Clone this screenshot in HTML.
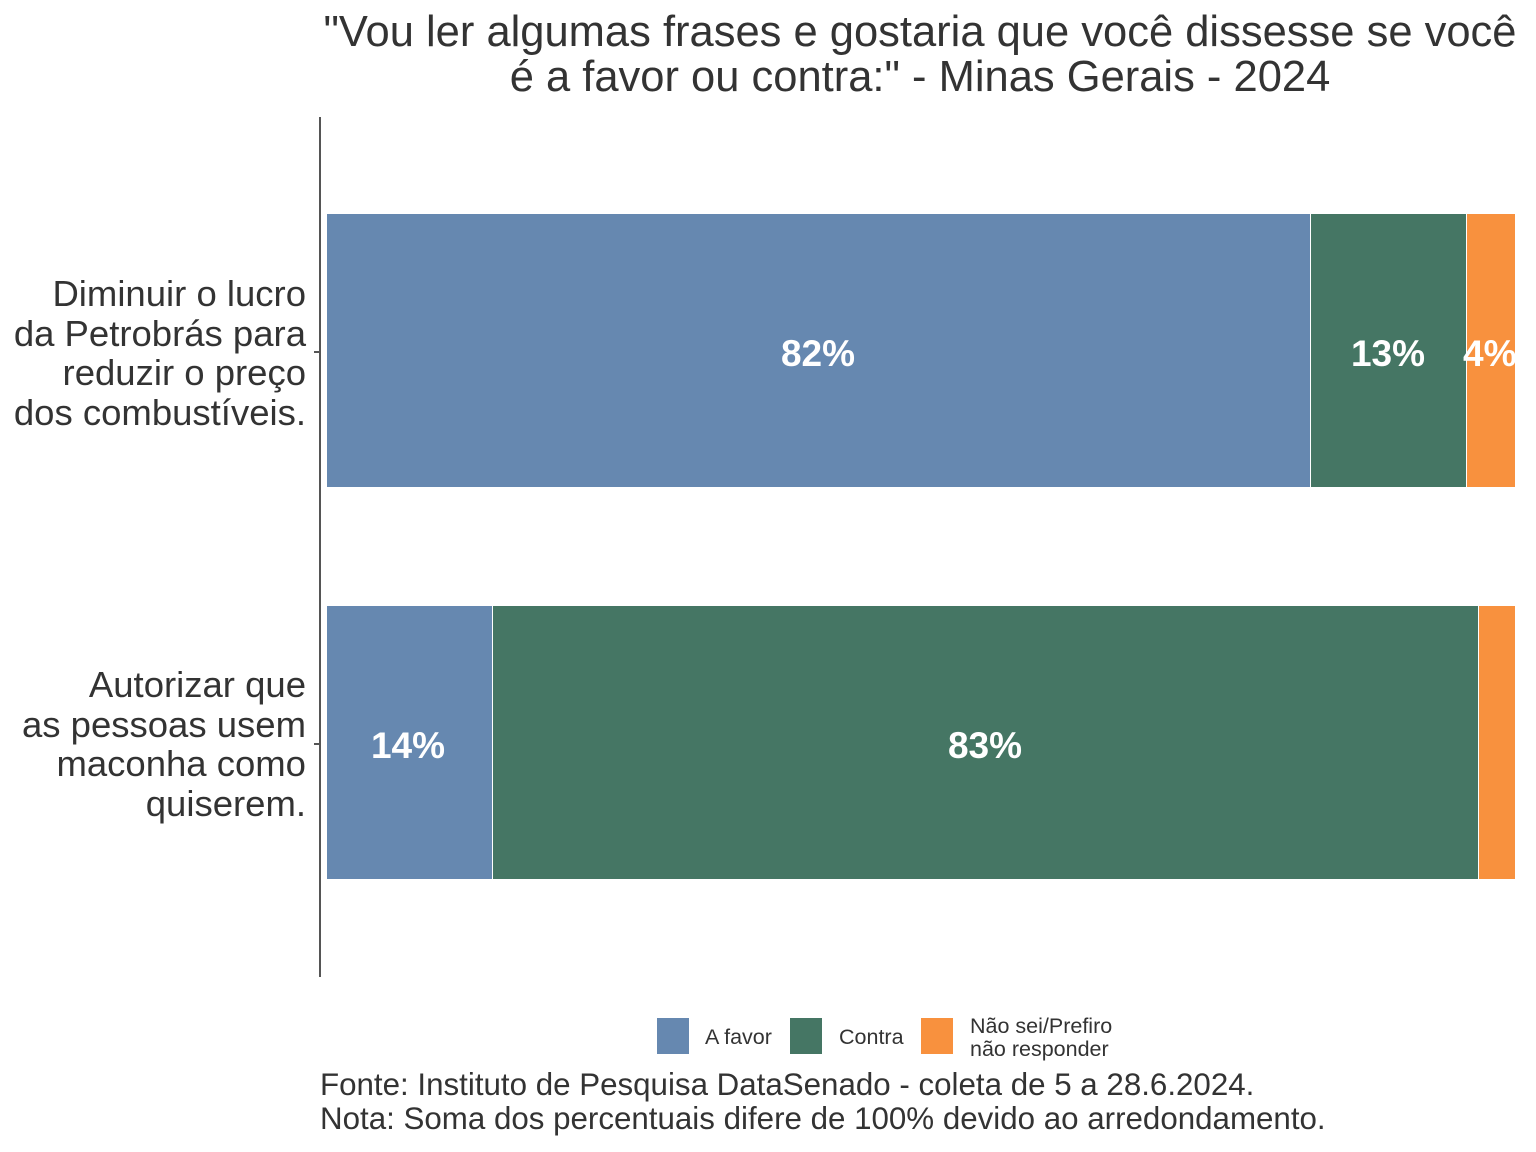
<!DOCTYPE html>
<html><head><meta charset="utf-8"><style>
body{margin:0;width:1536px;height:1152px;background:#fff;position:relative;overflow:hidden;font-family:"Liberation Sans",sans-serif;color:#333}
.a{position:absolute}
.t{font-size:43.5px;text-align:center;width:1400px;left:220px;line-height:45px;top:10px;white-space:nowrap}
.yl{font-size:36.5px;text-align:right;right:1230px;line-height:39.5px;width:400px;white-space:nowrap}
.bl{color:#fff;font-weight:bold;font-size:37px;text-align:center;line-height:40px}
.lg{font-size:21.5px;line-height:23px;white-space:nowrap}
.ft{font-size:31.3px;line-height:34px;left:320px;top:1068px;white-space:nowrap}
</style></head><body>
<div class="a t">"Vou ler algumas frases e gostaria que você dissesse se você<br>é a favor ou contra:" - Minas Gerais - 2024</div>
<div class="a" style="left:319px;top:117px;width:1.5px;height:860px;background:#555"></div>
<div class="a" style="left:314px;top:351px;width:6px;height:1.5px;background:#555"></div>
<div class="a" style="left:314px;top:743px;width:6px;height:1.5px;background:#555"></div>
<div class="a yl" style="top:274px">Diminuir o lucro<br>da Petrobrás para<br>reduzir o preço<br>dos combustíveis.</div>
<div class="a yl" style="top:665px">Autorizar que<br>as pessoas usem<br>maconha como<br>quiserem.</div>
<div class="a" style="left:327px;top:214px;width:983px;height:273px;background:#6688b0"></div>
<div class="a" style="left:1311px;top:214px;width:155px;height:273px;background:#457664"></div>
<div class="a" style="left:1467px;top:214px;width:48px;height:273px;background:#f8913e"></div>
<div class="a" style="left:327px;top:606px;width:165px;height:273px;background:#6688b0"></div>
<div class="a" style="left:493px;top:606px;width:985px;height:273px;background:#457664"></div>
<div class="a" style="left:1479px;top:606px;width:36px;height:273px;background:#f8913e"></div>
<div class="a bl" style="left:718px;top:334px;width:200px">82%</div>
<div class="a bl" style="left:1288px;top:334px;width:200px">13%</div>
<div class="a bl" style="left:1463px;top:334px;width:80px;text-align:left">4%</div>
<div class="a bl" style="left:308px;top:726px;width:200px">14%</div>
<div class="a bl" style="left:885px;top:726px;width:200px">83%</div>
<div class="a" style="left:657px;top:1018px;width:32px;height:36px;background:#6688b0"></div>
<div class="a lg" style="left:705px;top:1026px">A favor</div>
<div class="a" style="left:790px;top:1018px;width:32px;height:36px;background:#457664"></div>
<div class="a lg" style="left:839px;top:1026px">Contra</div>
<div class="a" style="left:921px;top:1018px;width:32px;height:36px;background:#f8913e"></div>
<div class="a lg" style="left:970px;top:1015px">Não sei/Prefiro<br>não responder</div>
<div class="a ft">Fonte: Instituto de Pesquisa DataSenado - coleta de 5 a 28.6.2024.<br>Nota: Soma dos percentuais difere de 100% devido ao arredondamento.</div>
</body></html>
